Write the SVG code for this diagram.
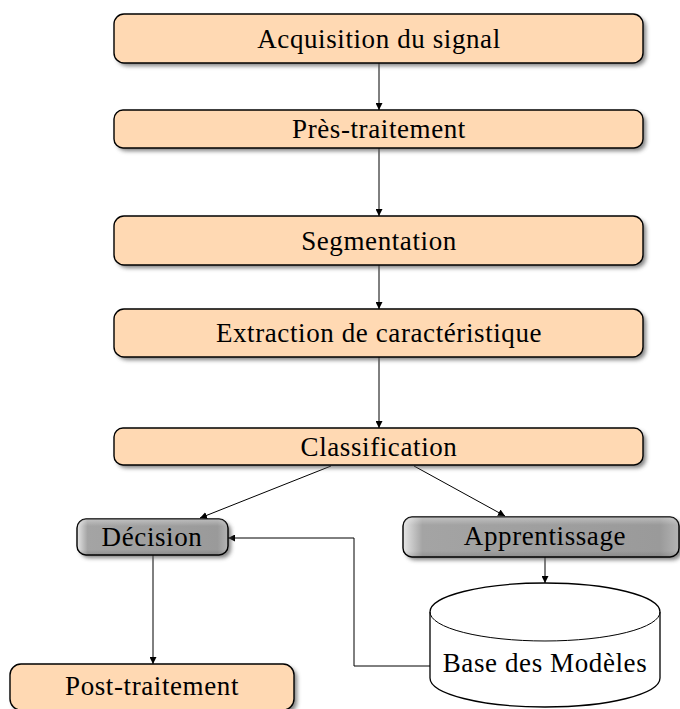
<svg xmlns="http://www.w3.org/2000/svg" width="680" height="709" viewBox="0 0 680 709">
  <defs>
    <filter id="shadow" x="-10%" y="-30%" width="120%" height="180%">
      <feGaussianBlur stdDeviation="2.2"/>
    </filter>
    <linearGradient id="greyFill" x1="0" y1="0" x2="1" y2="0">
      <stop offset="0" stop-color="#e6e6e6"/>
      <stop offset="0.07" stop-color="#a4a4a4"/>
      <stop offset="0.93" stop-color="#9a9a9a"/>
      <stop offset="1" stop-color="#b4b4b4"/>
    </linearGradient>
    <linearGradient id="greyShade" x1="0" y1="0" x2="0" y2="1">
      <stop offset="0" stop-color="#ffffff" stop-opacity="0.35"/>
      <stop offset="0.2" stop-color="#ffffff" stop-opacity="0"/>
      <stop offset="0.85" stop-color="#000000" stop-opacity="0"/>
      <stop offset="1" stop-color="#000000" stop-opacity="0.12"/>
    </linearGradient>
    <marker id="arrow" viewBox="0 0 10 10" refX="10" refY="5" markerWidth="7" markerHeight="7" markerUnits="userSpaceOnUse" orient="auto">
      <path d="M0,0 L10,5 L0,10 Z" fill="#000"/>
    </marker>
  </defs>
  <style>
    .step { fill: #FFD9B3; stroke: #000; stroke-width: 1.4; }
    .grey { fill: url(#greyFill); stroke: #000; stroke-width: 1.4; }
    .gloss { fill: url(#greyShade); stroke: none; }
    .shade { fill: #555; opacity: 0.75; filter: url(#shadow); }
    .label { font-family: "Liberation Serif", "DejaVu Serif", serif; font-size: 27px; letter-spacing: 0.6px; fill: #000; text-anchor: middle; }
    .link { fill: none; stroke: #000; stroke-width: 1; marker-end: url(#arrow); }
    .plain { fill: none; stroke: #000; stroke-width: 1; }
    .db { fill: #fff; stroke: #000; stroke-width: 1.3; }
  </style>

  <!-- connectors -->
  <g id="connectors">
    <line class="link" x1="379" y1="63" x2="379" y2="110"/>
    <line class="link" x1="379" y1="148" x2="379" y2="216"/>
    <line class="link" x1="379" y1="265" x2="379" y2="309"/>
    <line class="link" x1="379" y1="357" x2="379" y2="428"/>
    <line class="link" x1="331" y1="466" x2="200" y2="518"/>
    <line class="link" x1="414" y1="466" x2="505" y2="516"/>
    <line class="link" x1="153" y1="555" x2="153" y2="664"/>
    <line class="link" x1="545" y1="557" x2="545" y2="583"/>
    <polyline class="link" points="430,666 354,666 354,538 228,538"/>
  </g>

  <g id="acquisition">
    <rect class="shade" x="117" y="17" width="529" height="49" rx="10"/>
    <rect class="step" x="114" y="14" width="529" height="49" rx="10"/>
    <text class="label" x="379" y="48">Acquisition du signal</text>
  </g>

  <g id="pretraitement">
    <rect class="shade" x="117" y="113" width="529" height="38" rx="9"/>
    <rect class="step" x="114" y="110" width="529" height="38" rx="9"/>
    <text class="label" x="379" y="138">Près-traitement</text>
  </g>

  <g id="segmentation">
    <rect class="shade" x="117" y="219" width="529" height="49" rx="10"/>
    <rect class="step" x="114" y="216" width="529" height="49" rx="10"/>
    <text class="label" x="379" y="250">Segmentation</text>
  </g>

  <g id="extraction">
    <rect class="shade" x="117" y="312" width="529" height="48" rx="10"/>
    <rect class="step" x="114" y="309" width="529" height="48" rx="10"/>
    <text class="label" x="379" y="342">Extraction de caractéristique</text>
  </g>

  <g id="classification">
    <rect class="shade" x="117" y="431" width="529" height="37" rx="9"/>
    <rect class="step" x="114" y="428" width="529" height="37" rx="9"/>
    <text class="label" x="379" y="456">Classification</text>
  </g>

  <g id="decision">
    <rect class="shade" x="80" y="522" width="151" height="36" rx="9"/>
    <rect class="grey" x="77" y="519" width="151" height="36" rx="9"/>
    <rect class="gloss" x="77" y="519" width="151" height="36" rx="9"/>
    <text class="label" x="152" y="546">Décision</text>
  </g>

  <g id="apprentissage">
    <rect class="shade" x="406" y="520" width="276" height="40" rx="9"/>
    <rect class="grey" x="403" y="517" width="276" height="40" rx="9"/>
    <rect class="gloss" x="403" y="517" width="276" height="40" rx="9"/>
    <text class="label" x="545" y="545">Apprentissage</text>
  </g>

  <g id="base-modeles">
    <path class="db" d="M430,612 L430,678 A115,29 0 0 0 660,678 L660,612 A115,29 0 0 0 430,612 Z"/>
    <path class="plain" d="M430,612 A115,29 0 0 0 660,612" stroke-width="1.3"/>
    <text class="label" x="545" y="672">Base des Modèles</text>
  </g>

  <g id="post-traitement">
    <rect class="shade" x="13" y="667" width="284" height="46" rx="11"/>
    <rect class="step" x="10" y="664" width="284" height="46" rx="11"/>
    <text class="label" x="152" y="695">Post-traitement</text>
  </g>
</svg>
